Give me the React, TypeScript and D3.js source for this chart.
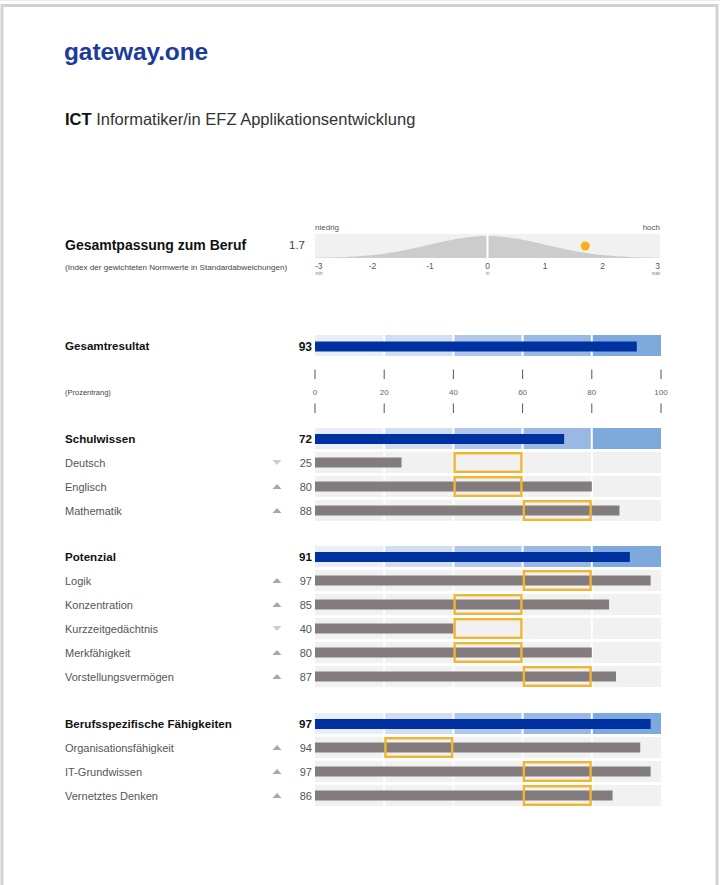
import React from "react";
import * as d3 from "d3";

// ---- data ----
const overallLabel = "Gesamtresultat";
const overallValue = 93;
const fitValue = 1.7;
const fitTicks = [-3, -2, -1, 0, 1, 2, 3];
const fitSubLabels = ["min", "", "", "m", "", "", "max"];
const pctTicks = [0, 20, 40, 60, 80, 100];
const bandEdges = [0, 20, 40, 60, 80, 100];

const sectionNames = ["Schulwissen", "Potenzial", "Berufsspezifische Fähigkeiten"];
const sectionValues = [72, 91, 97];

const itemSection = [0, 0, 0, 1, 1, 1, 1, 1, 2, 2, 2];
const itemLabels = [
  "Deutsch",
  "Englisch",
  "Mathematik",
  "Logik",
  "Konzentration",
  "Kurzzeitgedächtnis",
  "Merkfähigkeit",
  "Vorstellungsvermögen",
  "Organisationsfähigkeit",
  "IT-Grundwissen",
  "Vernetztes Denken",
];
const itemValues = [25, 80, 88, 97, 85, 40, 80, 87, 94, 97, 86];
const itemTrend = ["down", "up", "up", "up", "up", "down", "up", "up", "up", "up", "up"];
const itemTargetLow = [40, 40, 60, 60, 40, 40, 40, 60, 20, 60, 60];
const itemTargetHigh = [60, 60, 80, 80, 60, 60, 60, 80, 40, 80, 80];

// ---- styles ----
const FONT = "'Liberation Sans', Arial, sans-serif";
const headerBands = ["#e9eef8", "#d3def2", "#b1c8eb", "#99b8e3", "#7ea9dc"];
const rowBg = "#f1f1f1";
const blue = "#0031a1";
const grayBar = "#827c7c";
const orange = "#f2b530";

export default function App() {
  const W = 720;
  const H = 885;
  const x = d3.scaleLinear().domain([0, 100]).range([315, 661]);
  const fx = d3.scaleLinear().domain([-3, 3]).range([315, 660]);

  // bell curve
  const bellTop = 234;
  const bellBottom = 258;
  const bellPts = d3.range(-3, 3.0001, 0.05);
  const bellArea = d3
    .area<number>()
    .x((d) => fx(d))
    .y0(bellBottom)
    .y1((d) => bellBottom - 22 * Math.exp((-d * d) / 2))
    .curve(d3.curveBasis);

  const rowH = 21;
  const pitch = 24;
  const sectionStarts = [428, 546, 713];

  const bands = (y: number, header: boolean, key: string) =>
    bandEdges.slice(0, -1).map((a, i) => {
      const b = bandEdges[i + 1];
      const x0 = x(a) + (i === 0 ? 0 : 1);
      const x1 = x(b) - (i === bandEdges.length - 2 ? 0 : 1);
      return (
        <rect
          key={key + i}
          x={x0}
          y={y}
          width={x1 - x0}
          height={rowH}
          fill={header ? headerBands[i] : rowBg}
        />
      );
    });

  const headerRow = (label: string, value: number, y: number, key: string) => (
    <g key={key}>
      <text x={65} y={y + rowH / 2 + 4} fontSize={11.6} fontWeight="bold" fill="#111">
        {label}
      </text>
      <text x={312} y={y + rowH / 2 + 4} fontSize={11.6} fontWeight="bold" fill="#111" textAnchor="end">
        {value}
      </text>
      {bands(y, true, key + "b")}
      <rect x={x(0)} y={y + 6} width={x(value) - x(0)} height={10} fill={blue} />
    </g>
  );

  const itemRows = itemLabels.map((label, i) => {
    const s = itemSection[i];
    const idx = itemSection.slice(0, i).filter((v) => v === s).length;
    const y = sectionStarts[s] + pitch * (idx + 1);
    const cy = y + rowH / 2;
    const up = itemTrend[i] === "up";
    const tx = 277;
    const tri = up
      ? `M${tx - 4.5},${cy + 2.5} L${tx + 4.5},${cy + 2.5} L${tx},${cy - 2.5} Z`
      : `M${tx - 4.5},${cy - 2.5} L${tx + 4.5},${cy - 2.5} L${tx},${cy + 2.5} Z`;
    return (
      <g key={"item" + i}>
        <text x={65} y={cy + 4} fontSize={11} fill="#555">
          {label}
        </text>
        <path d={tri} fill={up ? "#a9a9a9" : "#cdcdcd"} />
        <text x={312} y={cy + 4} fontSize={11} fill="#555" textAnchor="end">
          {itemValues[i]}
        </text>
        {bands(y, false, "ib" + i)}
        <rect x={x(0)} y={y + 5.5} width={x(itemValues[i]) - x(0)} height={10} fill={grayBar} />
        <rect
          x={x(itemTargetLow[i]) + 1.2}
          y={y + 1.2}
          width={x(itemTargetHigh[i]) - x(itemTargetLow[i]) - 2.4}
          height={rowH - 2.4}
          fill="none"
          stroke={orange}
          strokeWidth={2.4}
        />
      </g>
    );
  });

  return (
    <svg
      width={W}
      height={H}
      style={{ position: "absolute", left: 0, top: 0, background: "#fff" }}
      fontFamily={FONT}
    >
      <line x1={0} x2={W} y1={0.5} y2={0.5} stroke="#ececec" />
      <rect x={2} y={5.5} width={715} height={H} fill="#fff" stroke="#d2d2d2" strokeWidth={3} />

      {/* logo & title */}
      <text x={64} y={60} fontSize={24.5} fontWeight="bold" fill="#1d3b98" letterSpacing={-0.1}>
        gateway.one
      </text>
      <text x={65} y={124.5} fontSize={16.5} fill="#333">
        <tspan fontWeight="bold" fill="#111">ICT</tspan>
        <tspan> Informatiker/in EFZ Applikationsentwicklung</tspan>
      </text>

      {/* Gesamtpassung */}
      <text x={65} y={250} fontSize={14} fontWeight="bold" fill="#111">
        Gesamtpassung zum Beruf
      </text>
      <text x={305} y={249} fontSize={11.5} fill="#444" textAnchor="end">
        {fitValue}
      </text>
      <text x={65} y={269.5} fontSize={8.1} fill="#444">
        (Index der gewichteten Normwerte in Standardabweichungen)
      </text>
      <text x={315} y={230} fontSize={8} fill="#555">
        niedrig
      </text>
      <text x={660} y={230} fontSize={8} fill="#555" textAnchor="end">
        hoch
      </text>
      <rect x={fx(-3)} y={bellTop} width={fx(3) - fx(-3)} height={bellBottom - bellTop} fill="#f1f1f1" />
      <path d={bellArea(bellPts) || ""} fill="#cccccc" />
      <line x1={fx(0)} x2={fx(0)} y1={bellTop} y2={bellBottom} stroke="#fff" strokeWidth={2} />
      <circle cx={fx(fitValue)} cy={246} r={4.5} fill="#f5b21a" />
      {fitTicks.map((t, i) => (
        <g key={"ft" + t}>
          <text
            x={fx(t)}
            y={269}
            fontSize={8.5}
            fill="#555"
            textAnchor={i === 0 ? "start" : i === fitTicks.length - 1 ? "end" : "middle"}
          >
            {t}
          </text>
          {fitSubLabels[i] && (
            <text
              x={fx(t) + (i === 0 ? 4 : i === fitTicks.length - 1 ? -4 : 0)}
              y={274.5}
              fontSize={4.5}
              fontStyle="italic"
              fill="#777"
              textAnchor="middle"
            >
              {fitSubLabels[i]}
            </text>
          )}
        </g>
      ))}

      {/* Gesamtresultat */}
      <text x={65} y={350} fontSize={11.6} fontWeight="bold" fill="#111">
        {overallLabel}
      </text>
      <text x={312} y={351} fontSize={12} fontWeight="bold" fill="#111" textAnchor="end">
        {overallValue}
      </text>
      {bands(335, true, "ov")}
      <rect x={x(0)} y={341.5} width={x(overallValue) - x(0)} height={10} fill={blue} />

      {/* percentile axis */}
      <text x={65} y={395} fontSize={7.5} fill="#444">
        (Prozentrang)
      </text>
      {pctTicks.map((t) => (
        <g key={"pt" + t}>
          <line x1={x(t)} x2={x(t)} y1={369.5} y2={379} stroke="#555" strokeWidth={1} />
          <line x1={x(t)} x2={x(t)} y1={403.5} y2={413} stroke="#555" strokeWidth={1} />
          <text x={x(t)} y={395} fontSize={8} fill="#666" textAnchor="middle">
            {t}
          </text>
        </g>
      ))}

      {sectionNames.map((n, s) => headerRow(n, sectionValues[s], sectionStarts[s], "sec" + s))}
      {itemRows}
    </svg>
  );
}
